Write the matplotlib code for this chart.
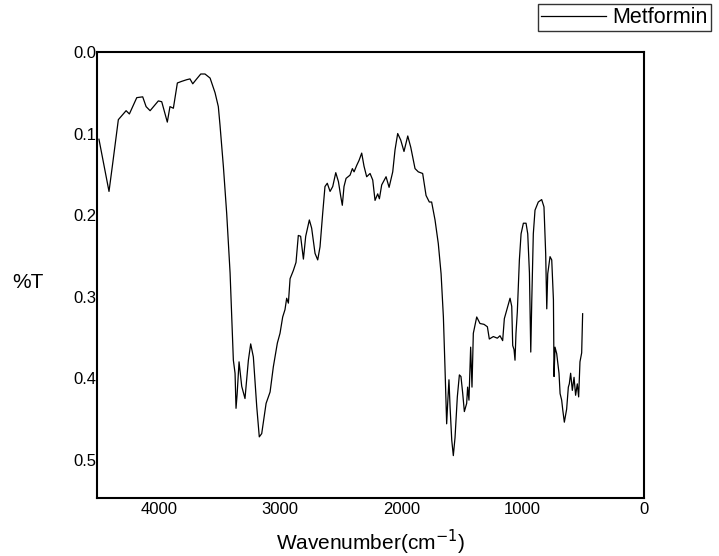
import matplotlib
matplotlib.use("Agg")
import matplotlib.pyplot as plt

plt.rcParams['font.family'] = ['Liberation Sans', 'DejaVu Sans']

# FTIR spectrum of metformin (wavenumber in cm-1, %T axis as plotted)
wavenumber = [4495, 4412, 4381, 4335, 4271, 4244, 4183, 4134, 4106, 4073,
              4005, 3977, 3931, 3909, 3881, 3848, 3812, 3771, 3744, 3721,
              3694, 3655, 3620, 3578, 3537, 3510, 3496, 3468, 3441, 3413,
              3394, 3386, 3372, 3364, 3355, 3339, 3317, 3290, 3262, 3243,
              3221, 3193, 3172, 3152, 3116, 3083, 3056, 3023, 3001, 2979,
              2960, 2946, 2932, 2918, 2891, 2869, 2850, 2831, 2808, 2789,
              2759, 2740, 2712, 2690, 2671, 2649, 2630, 2611, 2588, 2566,
              2541, 2519, 2500, 2487, 2473, 2456, 2423, 2404, 2390, 2368,
              2349, 2327, 2308, 2286, 2258, 2236, 2217, 2195, 2181, 2162,
              2126, 2101, 2071, 2052, 2030, 2005, 1978, 1947, 1922, 1887,
              1860, 1824, 1796, 1769, 1750, 1722, 1695, 1672, 1653, 1640,
              1626, 1618, 1607, 1598, 1584, 1571, 1557, 1538, 1521, 1508,
              1494, 1480, 1461, 1453, 1442, 1428, 1417, 1406, 1378, 1351,
              1318, 1290, 1274, 1241, 1208, 1186, 1164, 1150, 1122, 1103,
              1089, 1081, 1070, 1062, 1054, 1043, 1026, 1012, 993, 971,
              957, 943, 932, 924, 911, 897, 870, 842, 823, 809,
              800, 792, 773, 759, 745, 740, 732, 718, 699, 690,
              677, 668, 655, 636, 622, 614, 603, 589, 575, 562,
              548, 537, 526, 512, 504]
transmittance = [0.107, 0.171, 0.136, 0.083, 0.072, 0.076, 0.056, 0.055, 0.067, 0.072,
                 0.060, 0.061, 0.086, 0.067, 0.069, 0.038, 0.036, 0.034, 0.033, 0.039,
                 0.034, 0.027, 0.027, 0.032, 0.050, 0.067, 0.090, 0.141, 0.198, 0.271,
                 0.345, 0.378, 0.394, 0.437, 0.420, 0.380, 0.410, 0.425, 0.378, 0.358,
                 0.374, 0.435, 0.472, 0.468, 0.431, 0.417, 0.386, 0.357, 0.345, 0.325,
                 0.316, 0.302, 0.308, 0.278, 0.268, 0.258, 0.225, 0.226, 0.254, 0.226,
                 0.206, 0.216, 0.247, 0.255, 0.239, 0.198, 0.165, 0.161, 0.171, 0.165,
                 0.148, 0.159, 0.177, 0.188, 0.165, 0.155, 0.151, 0.143, 0.147, 0.139,
                 0.133, 0.124, 0.140, 0.153, 0.149, 0.157, 0.182, 0.174, 0.180, 0.163,
                 0.153, 0.166, 0.147, 0.120, 0.100, 0.108, 0.122, 0.103, 0.117, 0.143,
                 0.147, 0.149, 0.176, 0.184, 0.184, 0.206, 0.235, 0.272, 0.325, 0.386,
                 0.456, 0.432, 0.402, 0.435, 0.476, 0.495, 0.473, 0.423, 0.396, 0.398,
                 0.418, 0.441, 0.431, 0.411, 0.427, 0.362, 0.411, 0.345, 0.325, 0.333,
                 0.334, 0.337, 0.352, 0.349, 0.351, 0.348, 0.354, 0.327, 0.312, 0.302,
                 0.312, 0.360, 0.365, 0.378, 0.345, 0.319, 0.255, 0.223, 0.210, 0.210,
                 0.223, 0.271, 0.368, 0.307, 0.223, 0.194, 0.184, 0.181, 0.190, 0.247,
                 0.315, 0.272, 0.251, 0.255, 0.304, 0.398, 0.362, 0.370, 0.394, 0.419,
                 0.427, 0.439, 0.454, 0.438, 0.411, 0.407, 0.394, 0.415, 0.399, 0.421,
                 0.407, 0.423, 0.380, 0.369, 0.321]

xticks = [4000, 3000, 2000, 1000, 0]
yticks = [0.0, 0.1, 0.2, 0.3, 0.4, 0.5]

fig = plt.figure(figsize=(7.19, 5.56), dpi=100)
ax = fig.add_axes([0.1356, 0.1043, 0.7597, 0.8022])

ax.plot(wavenumber, transmittance, color='black', linewidth=0.9, label='Metformin')

ax.set_xlim(4507, 0)
ax.set_ylim(0.547, 0.0)
ax.set_xticks(xticks)
ax.set_xticklabels([str(t) for t in xticks])
ax.set_yticks(yticks)
ax.set_yticklabels(['%.1f' % t for t in yticks])
ax.tick_params(axis='both', length=0, labelsize=12)
ax.tick_params(axis='y', pad=1)
ax.tick_params(axis='x', pad=3)

for s in ax.spines.values():
    s.set_linewidth(1.5)

ax.set_xlabel('Wavenumber(cm$^{-1}$)', fontsize=15, va='center')
ax.xaxis.set_label_coords(0.5, -0.10)
ax.set_ylabel('%T', fontsize=15, rotation=0, ha='center', va='center')
ax.yaxis.set_label_coords(-0.127, 0.484)

leg = ax.legend(loc='upper right', bbox_to_anchor=(711 / 719, 1 - 4 / 556),
                bbox_transform=fig.transFigure, fontsize=15.5, frameon=True,
                fancybox=False, handlelength=3.0, handletextpad=0.3,
                borderpad=0.15, borderaxespad=0)
leg.get_frame().set_edgecolor('black')
leg.get_frame().set_linewidth(1.0)

fig.savefig('out.png', dpi=100, facecolor='white')
